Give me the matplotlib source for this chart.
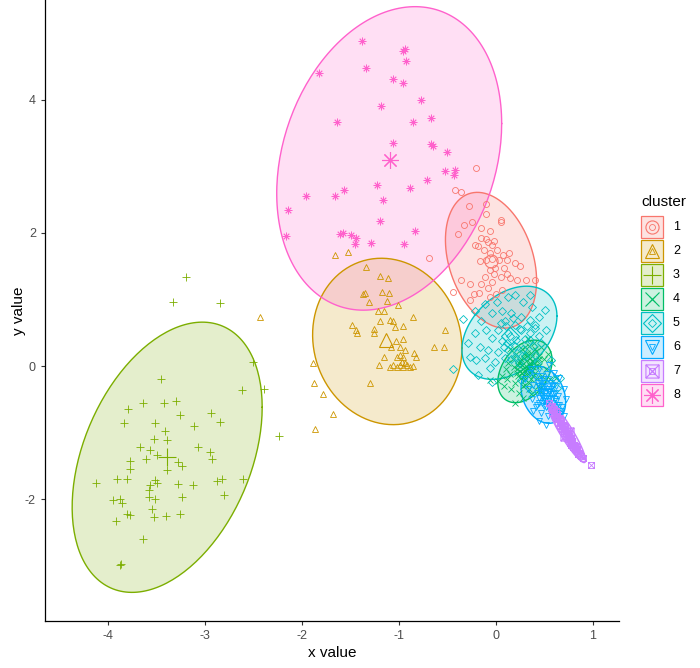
import numpy as np
import matplotlib
matplotlib.use("Agg")
import matplotlib.pyplot as plt
from matplotlib.path import Path
from matplotlib.patches import Rectangle

plt.rcParams["font.family"] = ["Liberation Sans", "DejaVu Sans"]
plt.rcParams["axes.unicode_minus"] = False

# ---- data ----
clusters = ["1", "2", "3", "4", "5", "6", "7", "8"]
colors = ["#F8766D", "#CD9600", "#7CAE00", "#00BE67",
          "#00BFC4", "#00A9FF", "#C77CFF", "#FF61CC"]

c1_x = [-0.20, -0.42, -0.36, -0.69, -0.28, -0.10, -0.10, -0.25, -0.33, 0.05, 0.05,
        -0.39, -0.15, -0.06, -0.15, -0.10, -0.22, -0.18, -0.08, -0.04, -0.02, -0.12,
        -0.06, 0.01, 0.07, 0.14, -0.16, -0.10, -0.04, 0.03, 0.12, 0.20, 0.25, -0.01,
        0.08, -0.06, -0.11, -0.02, 0.05, 0.12, 0.15, 0.22, 0.31, 0.40, -0.36, -0.27,
        -0.15, -0.04, -0.44, -0.27, -0.17, -0.08, -0.06, 0.06, 0.00, -0.23]
c1_y = [2.97, 2.65, 2.62, 1.62, 2.40, 2.43, 2.29, 2.17, 2.12, 2.20, 2.17,
        1.99, 2.07, 2.03, 1.92, 1.91, 1.82, 1.81, 1.87, 1.82, 1.88, 1.74,
        1.70, 1.74, 1.67, 1.70, 1.58, 1.59, 1.61, 1.59, 1.60, 1.55, 1.50, 1.48,
        1.47, 1.45, 1.34, 1.38, 1.34, 1.38, 1.32, 1.30, 1.30, 1.30, 1.29, 1.23,
        1.24, 1.27, 1.12, 0.99, 1.10, 1.17, 1.04, 1.15, 1.08, 1.08]

c2_x = [-1.66, -1.52, -1.34, -1.19, -1.11, -1.37, -1.35, -1.17, -1.10, -1.31, -1.12,
        -1.01, -1.22, -1.15, -0.85, -1.20, -1.09, -1.06, -1.48, -1.44, -1.43, -1.26,
        -1.26, -0.96, -1.04, -0.52, -1.03, -0.96, -1.08, -0.99, -0.94, -0.64, -0.54,
        -0.84, -0.82, -1.15, -1.02, -0.99, -0.96, -1.09, -1.06, -1.02, -0.99, -0.96,
        -0.92, -0.89, -0.85, -0.97, -0.94, -1.21, -1.89, -1.88, -1.78, -1.30, -1.68,
        -1.87, -2.43]
c2_y = [1.67, 1.72, 1.49, 1.35, 1.32, 1.09, 1.10, 1.12, 1.10, 0.97, 0.98,
        0.92, 0.82, 0.82, 0.74, 0.67, 0.69, 0.67, 0.62, 0.54, 0.50, 0.55,
        0.50, 0.60, 0.58, 0.54, 0.38, 0.40, 0.29, 0.29, 0.24, 0.29, 0.28,
        0.20, 0.14, 0.13, 0.14, 0.16, 0.13, -0.01, 0.02, -0.01, 0.02, -0.01,
        0.02, -0.01, 0.00, 0.06, 0.04, 0.02, 0.04, -0.25, -0.42, -0.26, -0.72,
        -0.94, 0.73]

c3_x = [-3.20, -3.33, -2.85, -2.50, -2.62, -2.39, -2.24, -3.45, -3.79, -3.64, -3.42,
        -3.30, -3.26, -2.94, -2.85, -3.11, -3.84, -3.52, -3.41, -3.53, -3.39, -3.67,
        -3.57, -3.07, -2.95, -2.93, -3.49, -3.61, -3.77, -3.77, -3.28, -3.24, -3.39,
        -4.12, -3.91, -3.80, -3.52, -3.57, -3.49, -3.58, -3.28, -3.12, -2.88, -2.82,
        -2.61, -2.80, -3.24, -3.52, -3.58, -3.95, -3.88, -3.86, -3.92, -3.80, -3.77,
        -3.55, -3.53, -3.40, -3.26, -3.64, -3.88, -3.87]
c3_y = [1.34, 0.97, 0.95, 0.06, -0.36, -0.35, -1.05, -0.20, -0.65, -0.56, -0.56,
        -0.53, -0.74, -0.71, -0.84, -0.90, -0.86, -0.85, -0.97, -1.09, -1.11, -1.22,
        -1.26, -1.21, -1.29, -1.39, -1.34, -1.40, -1.43, -1.54, -1.44, -1.50, -1.56,
        -1.76, -1.70, -1.69, -1.71, -1.79, -1.76, -1.86, -1.77, -1.79, -1.72, -1.69,
        -1.69, -1.93, -1.96, -2.00, -1.96, -2.01, -1.99, -2.05, -2.33, -2.22, -2.24,
        -2.15, -2.26, -2.25, -2.22, -2.60, -2.99, -2.98]

c4_x = [0.02, 0.06, 0.08, 0.10, 0.12, 0.13, 0.15, 0.16, 0.18, 0.19, 0.20, 0.21, 0.22,
        0.23, 0.24, 0.25, 0.26, 0.27, 0.28, 0.29, 0.30, 0.31, 0.32, 0.33, 0.34, 0.35,
        0.36, 0.37, 0.38, 0.39, 0.40, 0.41, 0.42, 0.43, 0.44, 0.45, 0.47, 0.48, 0.50,
        0.52, 0.54, 0.56, 0.58, 0.28, 0.20, 0.33, 0.15, 0.36, 0.46, 0.62, -0.06,
        0.25, 0.27, 0.29, 0.31, 0.33, 0.35, 0.37, 0.39, 0.41, 0.30, 0.32, 0.34, 0.26,
        0.28, 0.36, 0.38, 0.22, 0.24, 0.40, 0.42, 0.44, 0.30, 0.34, 0.27, 0.31, 0.35,
        0.29, 0.33, 0.37, 0.23]
c4_y = [-0.22, -0.15, -0.30, -0.05, -0.20, 0.05, -0.12, -0.35, 0.10, -0.02, -0.25,
        0.18, -0.10, 0.02, -0.40, 0.08, -0.18, 0.25, -0.05, 0.12, -0.28, 0.00, 0.20,
        -0.12, 0.30, 0.05, -0.20, 0.15, -0.02, 0.35, -0.10, 0.22, 0.08, -0.30, 0.15,
        0.00, 0.28, -0.15, 0.10, -0.05, 0.18, -0.20, 0.05, -0.48, -0.55, 0.40, 0.25,
        -0.42, -0.38, -0.18, -0.21,
        -0.08, 0.02, -0.15, 0.08, -0.03, 0.12, -0.08, 0.05, 0.00, -0.20, 0.15, -0.25,
        0.10, -0.30, 0.20, -0.15, -0.05, 0.05, 0.25, -0.18, 0.10, 0.28, -0.35, -0.10,
        -0.12, 0.00, 0.18, -0.05, 0.08, -0.15]

c5_x = [-0.34, -0.44, -0.22, -0.11, 0.01, 0.13, 0.20, 0.28, 0.35, 0.37, 0.51, -0.04,
        0.06, 0.16, 0.26, 0.35, 0.44, -0.15, 0.09, 0.20, 0.02, 0.13, 0.26, 0.40,
        0.52, -0.10, -0.22, -0.04, 0.06, 0.21, 0.35, 0.47, -0.29, -0.16, -0.08, 0.02,
        0.13, -0.27, -0.20, -0.11, -0.01, 0.09, 0.20, 0.40, 0.57, -0.06, -0.18, -0.04,
        0.61, 0.66, 0.63, 0.26, 0.37,
        0.10, 0.15, 0.20, 0.25, 0.30, 0.18, 0.22, 0.28, 0.32, 0.12, 0.05, 0.35, 0.40,
        0.24, 0.16, 0.08, 0.30, 0.38, 0.45, 0.42]
c5_y = [0.70, -0.05, 0.83, 0.94, 0.97, 1.04, 1.07, 0.97, 1.07, 0.89, 0.84, 0.79,
        0.82, 0.79, 0.74, 0.69, 0.74, 0.67, 0.67, 0.62, 0.54, 0.49, 0.54, 0.57,
        0.54, 0.54, 0.49, 0.42, 0.37, 0.39, 0.39, 0.34, 0.34, 0.29, 0.24, 0.21,
        0.24, 0.14, 0.09, 0.12, 0.06, 0.12, 0.14, 0.17, 0.09, -0.03, -0.14, -0.24,
        -0.21, -0.18, -0.33, -0.21, -0.36,
        0.60, 0.45, 0.30, 0.55, 0.40, 0.72, 0.20, 0.25, 0.60, 0.35, 0.65, 0.50, 0.62,
        0.05, 0.10, 0.28, 0.15, 0.30, 0.45, 0.05]

c6_x = [0.30, 0.33, 0.35, 0.37, 0.38, 0.40, 0.41, 0.42, 0.43, 0.44, 0.45, 0.46, 0.47,
        0.48, 0.49, 0.50, 0.51, 0.52, 0.53, 0.54, 0.55, 0.56, 0.57, 0.58, 0.59, 0.60,
        0.61, 0.62, 0.63, 0.64, 0.65, 0.66, 0.68, 0.70, 0.72, 0.45, 0.52, 0.38, 0.55,
        0.60, 0.65, 0.70, 0.36, 0.50, 0.47, 0.58, 0.62, 0.42,
        0.45, 0.47, 0.49, 0.51, 0.53, 0.55, 0.57, 0.59, 0.61, 0.63, 0.50, 0.52, 0.54,
        0.56, 0.58, 0.48, 0.46, 0.60, 0.62, 0.64, 0.44, 0.66, 0.53, 0.57, 0.51, 0.55,
        0.59, 0.49, 0.61, 0.67]
c6_y = [-0.20, -0.35, -0.10, -0.50, -0.28, -0.15, -0.62, -0.40, -0.25, -0.55, -0.05,
        -0.35, -0.70, -0.45, -0.20, -0.60, -0.30, -0.48, -0.12, -0.75, -0.38, -0.55,
        -0.25, -0.65, -0.42, -0.80, -0.50, -0.30, -0.68, -0.45, -0.58, -0.85, -0.62,
        -0.75, -0.50, -0.82, -0.88, -0.68, 0.02, -0.10, -0.18, -0.35, -0.05, -0.52,
        -0.15, -0.48, -0.72, -0.58,
        -0.30, -0.42, -0.38, -0.45, -0.35, -0.50, -0.42, -0.55, -0.40, -0.58, -0.25,
        -0.62, -0.20, -0.68, -0.30, -0.55, -0.22, -0.65, -0.52, -0.70, -0.48, -0.72,
        -0.52, -0.35, -0.40, -0.60, -0.28, -0.32, -0.62, -0.68]

c7_x = [0.55, 0.57, 0.58, 0.60, 0.61, 0.62, 0.63, 0.64, 0.65, 0.66, 0.67, 0.68, 0.69,
        0.70, 0.71, 0.72, 0.73, 0.74, 0.75, 0.76, 0.77, 0.78, 0.79, 0.80, 0.81, 0.82,
        0.83, 0.84, 0.86, 0.88, 0.90, 0.70, 0.74, 0.78, 0.66, 0.62, 0.98,
        0.58, 0.60, 0.62, 0.64, 0.66, 0.68, 0.70, 0.72, 0.74, 0.76, 0.78, 0.80, 0.82,
        0.84, 0.85, 0.87, 0.59, 0.63, 0.67, 0.71, 0.75, 0.79, 0.83]
c7_y = [-0.55, -0.62, -0.70, -0.65, -0.75, -0.80, -0.72, -0.85, -0.78, -0.90, -0.85,
        -0.95, -0.88, -1.00, -0.95, -1.05, -0.98, -1.10, -1.05, -1.15, -1.08, -1.18,
        -1.12, -1.22, -1.18, -1.25, -1.20, -1.28, -1.30, -1.35, -1.38, -0.90, -1.02,
        -1.10, -0.80, -0.68, -1.49,
        -0.60, -0.72, -0.76, -0.80, -0.86, -0.90, -0.97, -1.00, -1.06, -1.10, -1.14,
        -1.18, -1.22, -1.25, -1.32, -1.33, -0.66, -0.75, -0.83, -0.92, -1.00, -1.15,
        -1.24]

c8_x = [-1.82, -1.64, -1.57, -1.66, -1.96, -2.14, -2.16, -1.61, -1.38, -0.96, -0.94,
        -0.93, -1.34, -1.06, -0.96, -0.77, -1.18, -0.85, -0.67, -1.06, -0.67, -0.65,
        -0.50, -0.52, -0.42, -0.43, -0.71, -1.23, -0.89, -1.16, -1.20, -1.58, -1.49,
        -1.44, -1.45, -1.29, -0.83, -0.95]
c8_y = [4.40, 3.67, 2.65, 2.56, 2.55, 2.35, 1.95, 1.99, 4.88, 4.74, 4.77,
        4.58, 4.48, 4.32, 4.25, 4.00, 3.90, 3.67, 3.73, 3.35, 3.33, 3.30,
        3.22, 2.93, 2.94, 2.87, 2.79, 2.72, 2.67, 2.50, 2.18, 2.00, 1.97,
        1.93, 1.84, 1.85, 2.03, 1.83]

cluster_x = [c1_x, c2_x, c3_x, c4_x, c5_x, c6_x, c7_x, c8_x]
cluster_y = [c1_y, c2_y, c3_y, c4_y, c5_y, c6_y, c7_y, c8_y]

# cluster centres (drawn big)
centre_x = [-0.05, -1.13, -3.39, 0.31, 0.15, 0.51, 0.73, -1.09]
centre_y = [1.58, 0.39, -1.36, -0.05, 0.45, -0.45, -1.02, 3.10]

# ellipse estimates: centre, half width, half height, correlation
ell_cx = [-0.05, -1.12, -3.39, 0.30, 0.14, 0.49, 0.73, -1.10]
ell_cy = [1.59, 0.37, -1.37, -0.08, 0.50, -0.43, -1.00, 3.12]
ell_hw = [0.47, 0.77, 0.98, 0.28, 0.49, 0.23, 0.196, 1.16]
ell_hh = [1.02, 1.25, 2.03, 0.47, 0.70, 0.43, 0.45, 2.28]
ell_rho = [-0.30, -0.08, 0.37, 0.35, 0.36, -0.25, -0.92, 0.23]

# ggplot shapes 1..8
sqx = Path([(-1, -1), (1, -1), (1, 1), (-1, 1), (-1, -1), (-1, -1), (1, 1), (-1, 1), (1, -1)],
           [Path.MOVETO, Path.LINETO, Path.LINETO, Path.LINETO, Path.CLOSEPOLY,
            Path.MOVETO, Path.LINETO, Path.MOVETO, Path.LINETO])
markers = ["o", "^", "+", "x", "D", "v", sqx, (8, 2, 0)]
msize = [4.3, 4.8, 6.0, 4.8, 4.0, 4.8, 4.3, 5.5]


def ellipse_xy(cx, cy, hw, hh, rho, n=200):
    t = np.linspace(0, 2 * np.pi, n)
    x = cx + hw * np.cos(t)
    y = cy + hh * (rho * np.cos(t) + np.sqrt(1 - rho ** 2) * np.sin(t))
    return x, y


fig = plt.figure(figsize=(7.0, 6.68), dpi=100)
ax = fig.add_axes([45 / 700, 1 - 621 / 668, (619 - 45) / 700, 621 / 668])

for i in range(len(clusters)):
    ex, ey = ellipse_xy(ell_cx[i], ell_cy[i], ell_hw[i], ell_hh[i], ell_rho[i])
    ax.fill(ex, ey, color=colors[i], alpha=0.2, lw=0)
    ax.plot(ex, ey, color=colors[i], lw=1.0)

for i in range(len(clusters)):
    ax.plot(cluster_x[i], cluster_y[i], ls="none", marker=markers[i],
            ms=msize[i], mfc="none", mec=colors[i], mew=0.6)
    ax.plot(centre_x[i], centre_y[i], ls="none", marker=markers[i],
            ms=msize[i] * 2.2, mfc="none", mec=colors[i], mew=0.8)

ax.set_xlim(-4.65, 1.27)
ax.set_ylim(-3.83, 5.50)
ax.set_xticks([-4, -3, -2, -1, 0, 1])
ax.set_yticks([-2, 0, 2, 4])
for s in ["top", "right"]:
    ax.spines[s].set_visible(False)
for s in ["left", "bottom"]:
    ax.spines[s].set_linewidth(0.9)
ax.tick_params(length=3, width=0.8, color="#333333", labelcolor="#4D4D4D", labelsize=9)
ax.set_xlabel("x value", fontsize=11, labelpad=3)
ax.set_ylabel("y value", fontsize=11)
ax.yaxis.set_label_coords(-0.033, 0.5)

# legend drawn in pixel space
lg = fig.add_axes([0, 0, 1, 1])
lg.set_xlim(0, 700)
lg.set_ylim(668, 0)
lg.axis("off")
lg.text(641, 202, "cluster", fontsize=11, va="center", ha="left")
for i in range(len(clusters)):
    yc = 227 + i * 24
    lg.add_patch(Rectangle((641, yc - 11), 22, 22, facecolor=colors[i], alpha=0.2, lw=0))
    lg.add_patch(Rectangle((641, yc - 11), 22, 22, facecolor="none", edgecolor=colors[i], lw=0.9))
    lg.plot(652, yc, ls="none", marker=markers[i], ms=msize[i], mfc="none", mec=colors[i], mew=0.6)
    lg.plot(652, yc, ls="none", marker=markers[i], ms=msize[i] * 2.2, mfc="none", mec=colors[i], mew=0.8)
    lg.text(673, yc, clusters[i], fontsize=9, va="center", ha="left")

fig.savefig("out.png", dpi=100)
